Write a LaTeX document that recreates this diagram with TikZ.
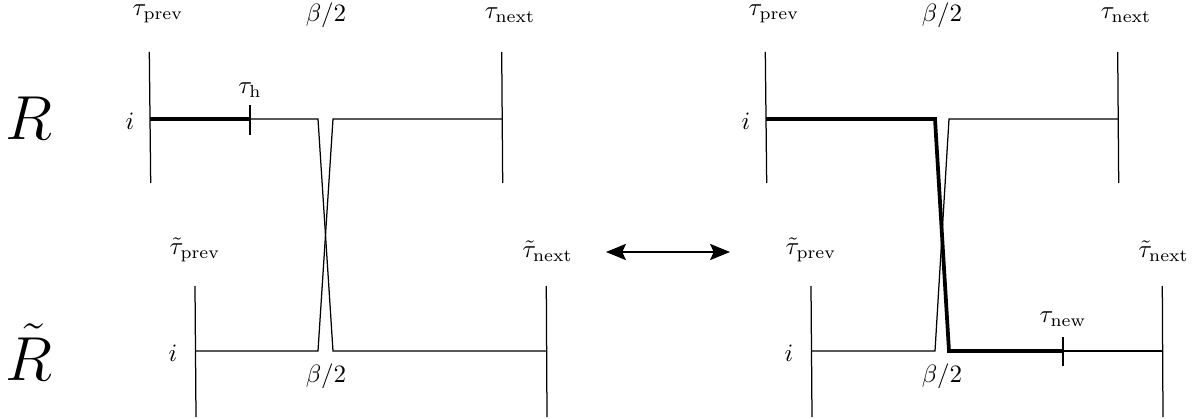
\documentclass[tikz,border=0pt]{standalone}
\usetikzlibrary{arrows.meta}
\begin{document}
\begin{tikzpicture}[x=0.4pt,y=-0.4pt,
  thin line/.style={line width=0.5pt},
  thick line/.style={line width=1.5pt},
  lbl/.style={inner sep=0pt},
  big/.style={inner sep=0pt,font=\fontsize{23}{28}\selectfont}]
\useasboundingbox (0,0) rectangle (1200,419);

% ---------- left diagram ----------
\coordinate (LtlT) at (149.3,52);  \coordinate (LtlB) at (150.7,183);
\coordinate (LtrT) at (501.7,52);  \coordinate (LtrB) at (502.7,183);
\coordinate (LblT) at (195,286);   \coordinate (LblB) at (196,417);
\coordinate (LbrT) at (546.3,286); \coordinate (LbrB) at (547,417);
\coordinate (Lti) at (150,119);  \coordinate (Lh) at (250,119);
\coordinate (LhT) at (250,105);  \coordinate (LhB) at (250,135);
\coordinate (La1) at (318,119);  \coordinate (La2) at (333,119);
\coordinate (Lte) at (501.9,119);
\coordinate (Lbi) at (195.6,351); \coordinate (Lb1) at (318,351);
\coordinate (Lb2) at (333,351);   \coordinate (Lbe) at (546.6,351);

\draw[thin line] (LtlT) -- (LtlB);
\draw[thin line] (LtrT) -- (LtrB);
\draw[thin line] (LblT) -- (LblB);
\draw[thin line] (LbrT) -- (LbrB);
\draw[thin line] (Lh) -- (La1) -- (Lb2) -- (Lbe);
\draw[thin line] (Lte) -- (La2) -- (Lb1) -- (Lbi);
\draw[thin line] (LhT) -- (LhB);
\draw[thick line] (Lti) -- (Lh);

\node[lbl] (Ltp) at (158,14) {$\tau_{\mathrm{prev}}$};
\node[lbl] (Lbt) at (326,15) {$\beta/2$};
\node[lbl] (Ltn) at (510,15) {$\tau_{\mathrm{next}}$};
\node[lbl] (Lth) at (250,90) {$\tau_{\mathrm{h}}$};
\node[lbl] (Lit) at (130,121) {$i$};
\node[lbl] (Lbp) at (195,250) {$\tilde\tau_{\mathrm{prev}}$};
\node[lbl] (Lbn) at (547.5,251) {$\tilde\tau_{\mathrm{next}}$};
\node[lbl] (Lib) at (173,353) {$i$};
\node[lbl] (Lbb) at (326,376) {$\beta/2$};

% ---------- right diagram ----------
\coordinate (RtlT) at (765.3,52);  \coordinate (RtlB) at (766.7,183);
\coordinate (RtrT) at (1117.7,52); \coordinate (RtrB) at (1118.7,183);
\coordinate (RblT) at (811,286);   \coordinate (RblB) at (812,417);
\coordinate (RbrT) at (1162.3,286);\coordinate (RbrB) at (1163,417);
\coordinate (Rti) at (766,119);
\coordinate (Ra1) at (935,119);  \coordinate (Ra2) at (949,119);
\coordinate (Rte) at (1117.9,119);
\coordinate (Rbi) at (811.6,351); \coordinate (Rb1) at (935,351);
\coordinate (Rb2) at (949,351);   \coordinate (Rbe) at (1162.6,351);
\coordinate (Rn) at (1063,351);
\coordinate (RnT) at (1063,337);  \coordinate (RnB) at (1063,366);

\draw[thin line] (RtlT) -- (RtlB);
\draw[thin line] (RtrT) -- (RtrB);
\draw[thin line] (RblT) -- (RblB);
\draw[thin line] (RbrT) -- (RbrB);
\draw[thin line] (Rte) -- (Ra2) -- (Rb1) -- (Rbi);
\draw[thin line] (Rn) -- (Rbe);
\draw[thin line] (RnT) -- (RnB);
\draw[thick line,line join=miter] (Rti) -- (Ra1) -- (Rb2) -- (Rn);

\node[lbl] (Rtp) at (774,14) {$\tau_{\mathrm{prev}}$};
\node[lbl] (Rbt) at (942,15) {$\beta/2$};
\node[lbl] (Rtn) at (1126,15) {$\tau_{\mathrm{next}}$};
\node[lbl] (Rit) at (746,121) {$i$};
\node[lbl] (Rbp) at (811,250) {$\tilde\tau_{\mathrm{prev}}$};
\node[lbl] (Rbn) at (1163.5,251) {$\tilde\tau_{\mathrm{next}}$};
\node[lbl] (Rib) at (789,353) {$i$};
\node[lbl] (Rbb) at (942,376) {$\beta/2$};
\node[lbl] (Rtw) at (1063,319) {$\tau_{\mathrm{new}}$};

% ---------- row labels and arrow ----------
\node[big] (RR) at (29,118) {$R$};
\node[big] (RT) at (29,352) {$\tilde R$};
\coordinate (A1) at (606,252); \coordinate (A2) at (730,252);
\draw[thin line,{Stealth[length=8pt,width=6.5pt,inset=1.5pt]}-{Stealth[length=8pt,width=6.5pt,inset=1.5pt]}] (A1) -- (A2);
\end{tikzpicture}
\end{document}
